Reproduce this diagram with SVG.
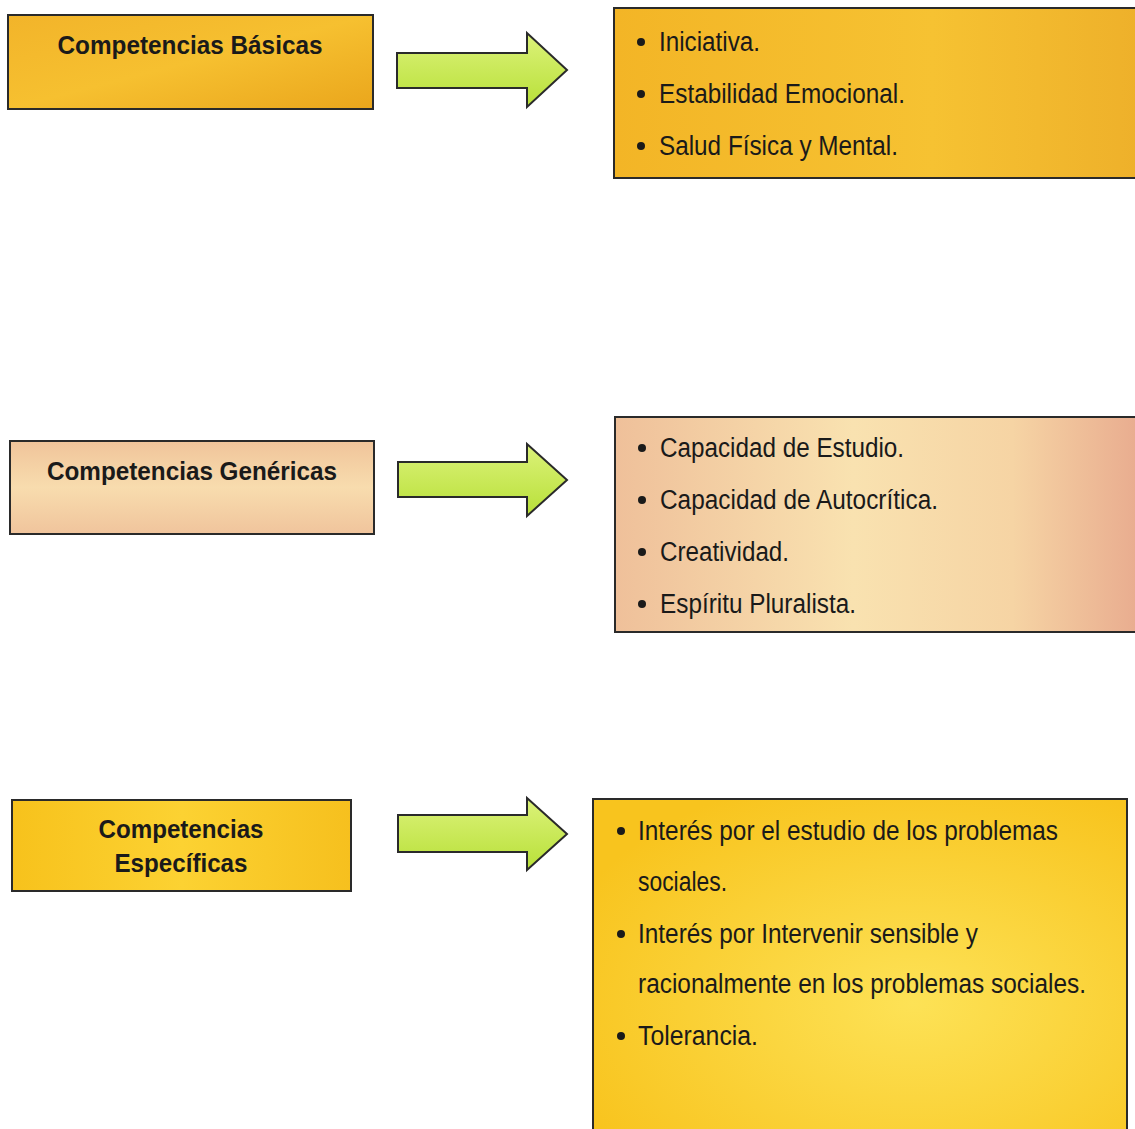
<svg xmlns="http://www.w3.org/2000/svg" width="1135" height="1129" viewBox="0 0 1135 1129">
<defs>
<linearGradient id="gold" x1="0" y1="0" x2="1" y2="1">
<stop offset="0" stop-color="#f2b42a"/><stop offset="0.5" stop-color="#f6c030"/><stop offset="1" stop-color="#eaa61c"/>
</linearGradient>
<linearGradient id="gold2" x1="0" y1="0" x2="1" y2="0">
<stop offset="0" stop-color="#f3b526"/><stop offset="0.6" stop-color="#f6c232"/><stop offset="1" stop-color="#eeb02a"/>
</linearGradient>
<linearGradient id="peach" x1="0" y1="0" x2="0" y2="1">
<stop offset="0" stop-color="#f0c49a"/><stop offset="0.5" stop-color="#f8dcae"/><stop offset="1" stop-color="#f0c49c"/>
</linearGradient>
<linearGradient id="peach2" x1="0" y1="0" x2="1" y2="0">
<stop offset="0" stop-color="#efc09a"/><stop offset="0.45" stop-color="#f9e2b0"/><stop offset="0.75" stop-color="#f6d4a4"/><stop offset="1" stop-color="#e8aa8e"/>
</linearGradient>
<linearGradient id="yellow" x1="0" y1="0" x2="1" y2="0">
<stop offset="0" stop-color="#f7c21c"/><stop offset="0.5" stop-color="#fcd232"/><stop offset="1" stop-color="#f6c01e"/>
</linearGradient>
<radialGradient id="yellow2" cx="0.6" cy="0.6" r="0.7">
<stop offset="0" stop-color="#fde256"/><stop offset="1" stop-color="#f8c41e"/>
</radialGradient>
<linearGradient id="lime" x1="0" y1="0" x2="0" y2="1">
<stop offset="0" stop-color="#dcf27a"/><stop offset="1" stop-color="#b8e038"/>
</linearGradient>
<style>
.box{stroke:#2a2a2a;stroke-width:2}
.arrow{fill:url(#lime);stroke:#2a2a2a;stroke-width:2;stroke-linejoin:miter}
.title{font-family:"Liberation Sans Narrow","Liberation Sans",Arial,sans-serif;font-weight:bold;font-size:26px;fill:#1a1a1a;text-anchor:middle}
.item{font-family:"Liberation Sans Narrow","Liberation Sans",Arial,sans-serif;font-size:27px;fill:#1a1a1a}
.dot{fill:#1a1a1a}
</style>
</defs>
<rect width="1135" height="1129" fill="#ffffff"/>

<g id="node-basicas">
<rect class="box" x="8" y="15" width="365" height="94" fill="url(#gold)"/>
<text class="title" x="190" y="54" textLength="265" lengthAdjust="spacingAndGlyphs">Competencias Básicas</text>
</g>
<g id="node-basicas-items">
<rect class="box" x="614" y="8" width="530" height="170" fill="url(#gold2)"/>
<circle class="dot" cx="641" cy="42" r="4"/>
<text class="item" x="659" y="51" textLength="101" lengthAdjust="spacingAndGlyphs">Iniciativa.</text>
<circle class="dot" cx="641" cy="94" r="4"/>
<text class="item" x="659" y="103" textLength="246" lengthAdjust="spacingAndGlyphs">Estabilidad Emocional.</text>
<circle class="dot" cx="641" cy="146" r="4"/>
<text class="item" x="659" y="155" textLength="239" lengthAdjust="spacingAndGlyphs">Salud Física y Mental.</text>
</g>

<g id="node-genericas">
<rect class="box" x="10" y="441" width="364" height="93" fill="url(#peach)"/>
<text class="title" x="192" y="480" textLength="290" lengthAdjust="spacingAndGlyphs">Competencias Genéricas</text>
</g>
<g id="node-genericas-items">
<rect class="box" x="615" y="417" width="530" height="215" fill="url(#peach2)"/>
<circle class="dot" cx="642" cy="448" r="4"/>
<text class="item" x="660" y="457" textLength="244" lengthAdjust="spacingAndGlyphs">Capacidad de Estudio.</text>
<circle class="dot" cx="642" cy="500" r="4"/>
<text class="item" x="660" y="509" textLength="278" lengthAdjust="spacingAndGlyphs">Capacidad de Autocrítica.</text>
<circle class="dot" cx="642" cy="552" r="4"/>
<text class="item" x="660" y="561" textLength="129" lengthAdjust="spacingAndGlyphs">Creatividad.</text>
<circle class="dot" cx="642" cy="604" r="4"/>
<text class="item" x="660" y="613" textLength="196" lengthAdjust="spacingAndGlyphs">Espíritu Pluralista.</text>
</g>

<g id="node-especificas">
<rect class="box" x="12" y="800" width="339" height="91" fill="url(#yellow)"/>
<text class="title" x="181" y="838" textLength="165" lengthAdjust="spacingAndGlyphs">Competencias</text>
<text class="title" x="181" y="872" textLength="133" lengthAdjust="spacingAndGlyphs">Específicas</text>
</g>
<g id="node-especificas-items">
<rect class="box" x="593" y="799" width="534" height="340" fill="url(#yellow2)"/>
<circle class="dot" cx="621" cy="831" r="4"/>
<text class="item" x="638" y="840" textLength="420" lengthAdjust="spacingAndGlyphs">Interés por el estudio de los problemas</text>
<text class="item" x="638" y="891" textLength="89" lengthAdjust="spacingAndGlyphs">sociales.</text>
<circle class="dot" cx="621" cy="934" r="4"/>
<text class="item" x="638" y="943" textLength="340" lengthAdjust="spacingAndGlyphs">Interés por Intervenir sensible y</text>
<text class="item" x="638" y="993" textLength="448" lengthAdjust="spacingAndGlyphs">racionalmente en los problemas sociales.</text>
<circle class="dot" cx="621" cy="1036" r="4"/>
<text class="item" x="638" y="1045" textLength="120" lengthAdjust="spacingAndGlyphs">Tolerancia.</text>
</g>

<g id="connectors">
<path class="arrow" d="M397,53 H527 V33 L567,70 L527,107 V88 H397 Z"/>
<path class="arrow" d="M398,462 H527 V444 L567,480 L527,516 V497 H398 Z"/>
<path class="arrow" d="M398,815 H527 V798 L567,834 L527,870 V852 H398 Z"/>
</g>
</svg>
